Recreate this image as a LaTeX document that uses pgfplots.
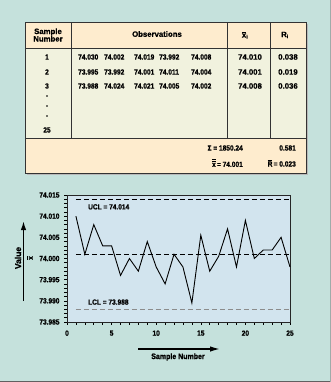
\documentclass[border=0pt]{standalone}
\usepackage{fontspec}
\setmainfont{Liberation Sans}[FakeBold=0.7]
\newfontfamily\cnA{Liberation Sans}[FakeStretch=0.88,FakeBold=0.8]
\usepackage{pgfplots}
\pgfplotsset{compat=1.18}
\usetikzlibrary{arrows.meta}
\definecolor{bgteal}{RGB}{197,225,220}
\definecolor{peach}{RGB}{254,236,206}
\definecolor{bodyc}{RGB}{241,242,222}
\definecolor{plotbg}{RGB}{210,228,238}
\newcommand{\fa}{\cnA\bfseries\fontsize{7.5}{8}\selectfont}
\newcommand{\fw}{\bfseries\fontsize{7.8}{8.5}\selectfont}
\begin{document}
\begin{tikzpicture}
\useasboundingbox (0,0) rectangle (331bp,-382bp);
\fill[bgteal] (0,0) rectangle (331bp,-382bp);
\draw[gray!75!black, line width=1bp] (0,-381.5bp) -- (331bp,-381.5bp);
\draw[gray!55!bgteal, line width=0.8bp] (330.6bp,0) -- (330.6bp,-382bp);
% table
\fill[gray!55] (26.5bp,-23.5bp) rectangle (307.8bp,-174.8bp);
\fill[peach] (25bp,-22bp) rectangle (306bp,-48bp);
\fill[bodyc] (25bp,-48bp) rectangle (306bp,-138bp);
\fill[peach] (25bp,-138bp) rectangle (306bp,-173bp);
\draw[black!80, line width=0.8bp] (25bp,-22bp) rectangle (306bp,-173bp);
\draw[black!80, line width=0.8bp] (25bp,-48bp) -- (306bp,-48bp) (25bp,-138bp) -- (306bp,-138bp);
\foreach \x in {71,227,270} \draw[black!80, line width=0.8bp] (\x bp,-22bp) -- (\x bp,-138bp);
% header
\node[font=\fw, align=center, inner sep=0pt] at (48bp,-35bp) {Sample\\[-1pt]Number};
\node[font=\fw, inner sep=0pt] at (157bp,-34bp) {Observations};
\node[font=\fw, inner sep=0pt] at (245bp,-35bp) {$\overline{\hbox{\fw x}}_{\hbox{\bfseries\fontsize{5}{5}\selectfont i}}$};
\node[font=\fw, inner sep=0pt] at (285bp,-35bp) {R$_{\hbox{\bfseries\fontsize{5}{5}\selectfont i}}$};
% body
\node[font=\fa, inner sep=0pt] at (47bp,-57bp) {1};
\node[font=\fa, inner sep=0pt] at (47bp,-72bp) {2};
\node[font=\fa, inner sep=0pt] at (47bp,-86bp) {3};
\node[font=\fw, inner sep=0pt] at (47bp,-96bp) {.};
\node[font=\fw, inner sep=0pt] at (47bp,-106bp) {.};
\node[font=\fw, inner sep=0pt] at (47bp,-116bp) {.};
\node[font=\fa, inner sep=0pt] at (47bp,-130bp) {25};
\foreach \xx/\a/\b/\c in {78/74.030/73.995/73.988, 104/74.002/73.992/74.024, 134/74.019/74.001/74.021, 159/73.992/74.011/74.005, 191/74.008/74.004/74.002}{
  \node[font=\fa, anchor=west, inner sep=0pt] at (\xx bp,-57bp) {\a};
  \node[font=\fa, anchor=west, inner sep=0pt] at (\xx bp,-72bp) {\b};
  \node[font=\fa, anchor=west, inner sep=0pt] at (\xx bp,-86bp) {\c};
}
\foreach \y/\m/\r in {57/74.010/0.038, 72/74.001/0.019, 86/74.008/0.036}{
  \node[font=\fw, inner sep=0pt] at (250bp,-\y bp) {\m};
  \node[font=\fw, inner sep=0pt] at (288bp,-\y bp) {\r};
}
% footer
\node[font=\fa, anchor=east, inner sep=0pt] at (243bp,-148bp) {Σ = 1850.24};
\node[font=\fa, anchor=east, inner sep=0pt] at (296bp,-148bp) {0.581};
\node[font=\fa, anchor=east, inner sep=0pt] at (243bp,-163bp) {$\overline{\overline{\hbox{\fa x}}}$\,= 74.001};
\node[font=\fa, anchor=east, inner sep=0pt] at (296bp,-163bp) {$\overline{\hbox{\fa R}}$\,= 0.023};
% chart
\begin{axis}[at={(67bp,-322bp)}, anchor=south west, scale only axis,
  width=223bp, height=127bp,
  xmin=0, xmax=25, ymin=73.985, ymax=74.015,
  axis background/.style={fill=plotbg},
  xtick={0,5,10,15,20,25}, minor x tick num=4,
  ytick={73.985,73.990,73.995,74.000,74.005,74.010,74.015}, minor y tick num=4,
  tick align=outside, tick pos=left,
  major tick length=3bp, minor tick length=3bp,
  tick style={black, line width=0.6bp},
  /pgf/number format/assume math mode=true,
  ticklabel style={font=\fa},
  yticklabel style={/pgf/number format/fixed, /pgf/number format/fixed zerofill, /pgf/number format/precision=3, xshift=-1bp},
  xticklabel style={yshift=-2bp},
  axis line style={black!85, line width=0.8bp},
  clip=false]
\addplot[black, line width=0.8bp, dash pattern=on 5bp off 3bp] coordinates {(1,74.014) (25,74.014)};
\addplot[black, line width=0.8bp, dash pattern=on 5bp off 3bp] coordinates {(1,74.001) (25,74.001)};
\addplot[gray!90, line width=1.5bp, dash pattern=on 5bp off 3bp] coordinates {(1,73.988) (25,73.988)};
\addplot[black, line width=0.9bp] coordinates {
(1,74.010) (2,74.001) (3,74.008) (4,74.003) (5,74.003) (6,73.996) (7,74.000) (8,73.997) (9,74.004) (10,73.998)
(11,73.994) (12,74.001) (13,73.998) (14,73.9895) (15,74.0055) (16,73.997) (17,74.0005) (18,74.007) (19,73.998) (20,74.009)
(21,74.000) (22,74.002) (23,74.002) (24,74.005) (25,73.998)};
\node[font=\fa, anchor=west, inner sep=0pt] at (axis cs:2.35,74.0122) {UCL = 74.014};
\node[font=\fa, anchor=west, inner sep=0pt] at (axis cs:2.35,73.9897) {LCL = 73.988};
\end{axis}
% axis labels and arrows
\node[rotate=90, font=\bfseries\fontsize{8.5}{9}\selectfont, inner sep=0pt] at (18bp,-258bp) {Value};
\draw[-{Latex[length=9bp,width=5.5bp]}, line width=1.5bp] (23.5bp,-301bp) -- (23.5bp,-221bp);
\node[rotate=90, inner sep=0pt] at (30bp,-258bp) {$\overline{\hbox{\fa x}}$};
\node[font=\cnA\bfseries\fontsize{8}{9}\selectfont, inner sep=0pt] at (178bp,-357bp) {Sample Number};
\draw[-{Latex[length=10bp,width=5.5bp]}, line width=1.5bp] (138bp,-349bp) -- (220bp,-349bp);
\end{tikzpicture}
\end{document}
